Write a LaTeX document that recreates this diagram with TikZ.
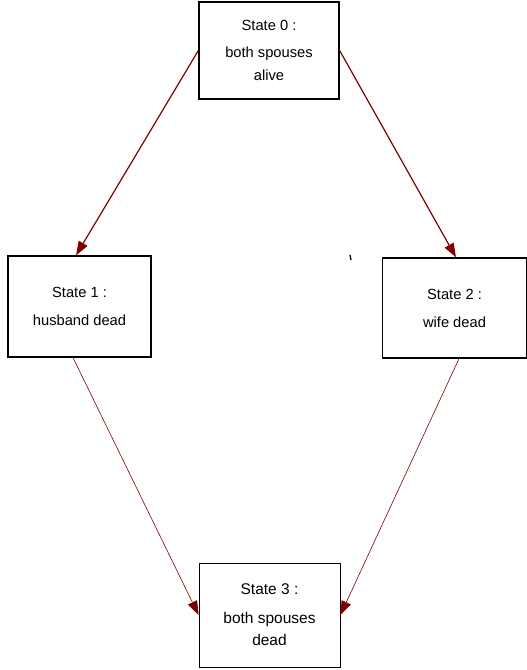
\documentclass[tikz,border=0pt]{standalone}
\usepackage{fontspec}
\setmainfont{Liberation Sans}
\usetikzlibrary{arrows.meta,positioning}
\definecolor{arrowred}{RGB}{128,0,0}
\tikzset{
    x=1pt,y=-1pt,
    state/.style ={rectangle, draw, line width=1.3pt, align=center,
        font=\fontsize{14.7}{23}\selectfont},
    trans/.style = {draw=arrowred, line width=1.2pt,
        -{Triangle[length=14pt,width=10pt]}, arrowred},
    thintrans/.style = {trans, line width=0.6pt}
}
\begin{document}
\begin{tikzpicture}

    \useasboundingbox (0,0) rectangle (527,670);

    \node[state, minimum width=140pt, minimum height=97pt] (s0) at (269,50.5)
        {State 0 :\\[4pt]both spouses\\alive};

    % the two single-death states
    \node[state, minimum width=143pt, minimum height=101pt] (s1) at (79.5,306.5)
        {State 1 :\\[5pt]husband dead};
    \node[state, minimum width=144pt, minimum height=100pt] (s2) at (454.5,308)
        {State 2 :\\[5pt]wife dead};

    \node[state, font=\fontsize{15.5}{22}\selectfont, line width=0.8pt,
        minimum width=141pt, minimum height=104pt] (s3) at (269.5,615)
        {State 3 :\\[7pt]both spouses\\dead};

    % first death
    \path[trans] (s0.west) -- ([xshift=-3.5pt]s1.north);
    \path[trans] (s0.east) -- ([xshift=1.5pt]s2.north);

    % second death
    \path[thintrans] ([xshift=-6.5pt]s1.south) -- (s3.west);
    \path[thintrans] ([xshift=4.5pt]s2.south) -- (s3.east);

    \draw[line width=1.3pt] (350,255) -- (351,260);

\end{tikzpicture}
\end{document}
